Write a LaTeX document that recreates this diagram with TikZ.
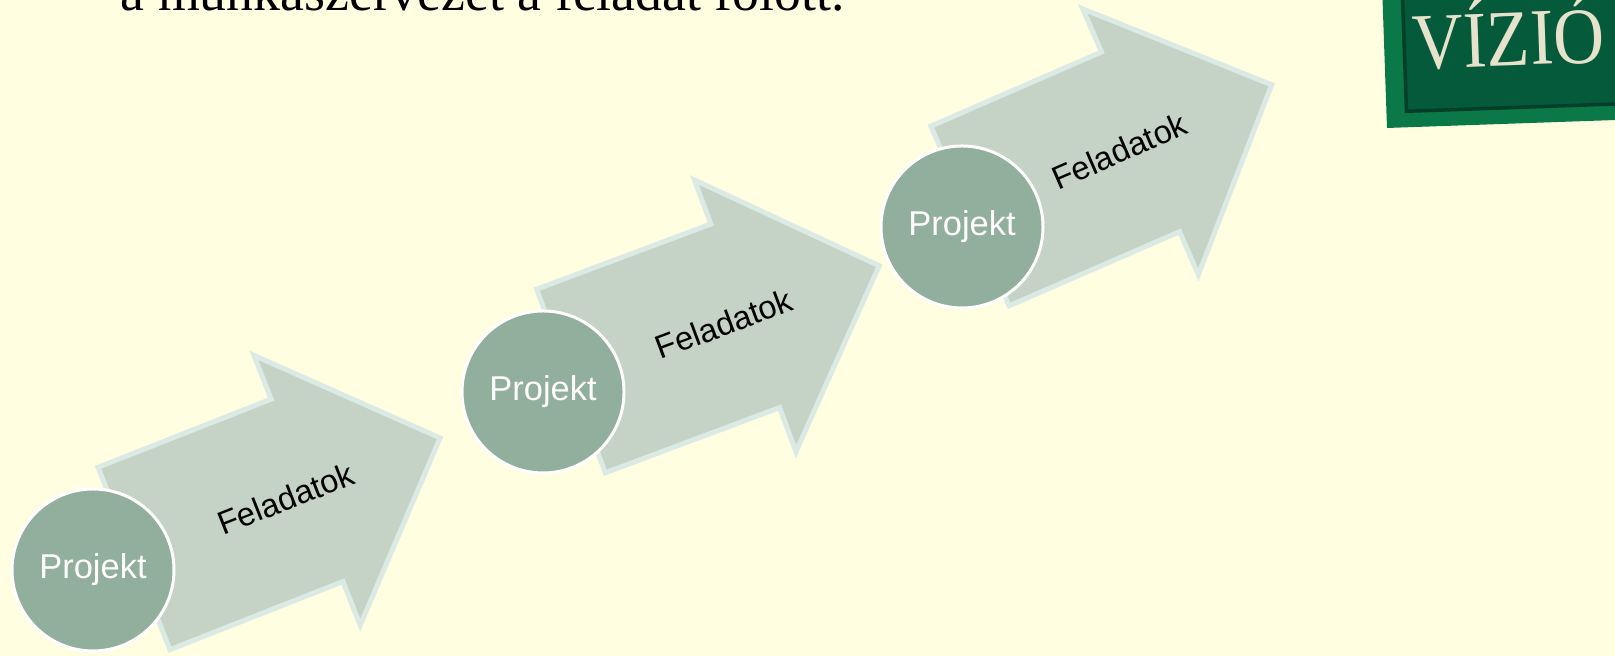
\documentclass[tikz,border=0pt]{standalone}
\usepackage{fontspec}
\setmainfont{Liberation Serif}
\newfontfamily\arialfont{Liberation Sans}
\usetikzlibrary{calc}

\definecolor{bgyellow}{HTML}{FFFEE0}
\definecolor{arrowfill}{HTML}{C4D3C5}
\definecolor{arrowrim}{HTML}{DCEAE6}
\definecolor{discfill}{HTML}{92AE9C}
\definecolor{boardgreen}{HTML}{045A3A}
\definecolor{bevelgreen}{HTML}{0B7848}
\definecolor{shadowgreen}{HTML}{023F2A}
\definecolor{chalk}{HTML}{E6E2CC}

\tikzset{
	feladat/.style={fill=arrowfill,draw=arrowrim,line width=0.5mm,line join=miter},
	projekt/.style={circle,fill=discfill,draw=white,line width=0.3mm,minimum size=16.2mm,
		inner sep=0pt,text=white,font=\arialfont\fontsize{9.8}{10}\selectfont},
	feladatlabel/.style={transform shape,inner sep=0pt,text=black,font=\arialfont\fontsize{9.3}{10}\selectfont}
}

\begin{document}
\begin{tikzpicture}[x=0.1mm,y=0.1mm]
		\useasboundingbox (0,0) rectangle (1615,656);
		\clip (0,0) rectangle (1615,656);
		\fill[bgyellow] (0,0) rectangle (1615,656);
		\node[anchor=base west,inner sep=0pt,font=\fontsize{15.3}{18}\selectfont] (title) at (120,645.5) {a munkaszervezet a feladat fölött.};
		% first step
		\begin{scope}[shift={(134,97.5)},rotate=21.5]
		\coordinate (A) at (0,98);
		\coordinate (B) at (186,98);
		\coordinate (C) at (186,145);
		\coordinate (D) at (329,0);
		\coordinate (E) at (186,-145);
		\coordinate (F) at (186,-98);
		\coordinate (G) at (0,-98);
		\draw[feladat] (A)--(B)--(C)--(D)--(E)--(F)--(G)--cycle;
		\node[feladatlabel] (f1) at (163,0) {Feladatok};
		\end{scope}
		\node[projekt] (p1) at (93,86) {Projekt};
		% second step
		\begin{scope}[shift={(571,275)},rotate=20.5]
		\coordinate (A) at (0,98);
		\coordinate (B) at (186,98);
		\coordinate (C) at (186,145);
		\coordinate (D) at (329,0);
		\coordinate (E) at (186,-145);
		\coordinate (F) at (186,-98);
		\coordinate (G) at (0,-98);
		\draw[feladat] (A)--(B)--(C)--(D)--(E)--(F)--(G)--cycle;
		\node[feladatlabel] (f2) at (163,0) {Feladatok};
		\end{scope}
		\node[projekt] (p2) at (543,264) {Projekt};
		% third step
		\begin{scope}[shift={(970,440)},rotate=23.5]
		\coordinate (A) at (0,98);
		\coordinate (B) at (186,98);
		\coordinate (C) at (186,145);
		\coordinate (D) at (329,0);
		\coordinate (E) at (186,-145);
		\coordinate (F) at (186,-98);
		\coordinate (G) at (0,-98);
		\draw[feladat] (A)--(B)--(C)--(D)--(E)--(F)--(G)--cycle;
		\node[feladatlabel] (f3) at (163,0) {Feladatok};
		\end{scope}
		\node[projekt] (p3) at (962,429) {Projekt};
		% board
		\begin{scope}[shift={(1387,528)},rotate=2]
		\fill[bevelgreen] (0,0) rectangle (300,200);
		\fill[boardgreen] (20,16) rectangle (300,200);
		\draw[shadowgreen,line width=0.35mm] (20,200)--(20,16)--(300,16);
		\node[anchor=base west,inner sep=0pt,transform shape,xscale=0.88,text=chalk,
			font=\fontsize{22.8}{24}\selectfont] (vizio) at (28,58) {VÍZIÓ};
		\end{scope}
\end{tikzpicture}
\end{document}
